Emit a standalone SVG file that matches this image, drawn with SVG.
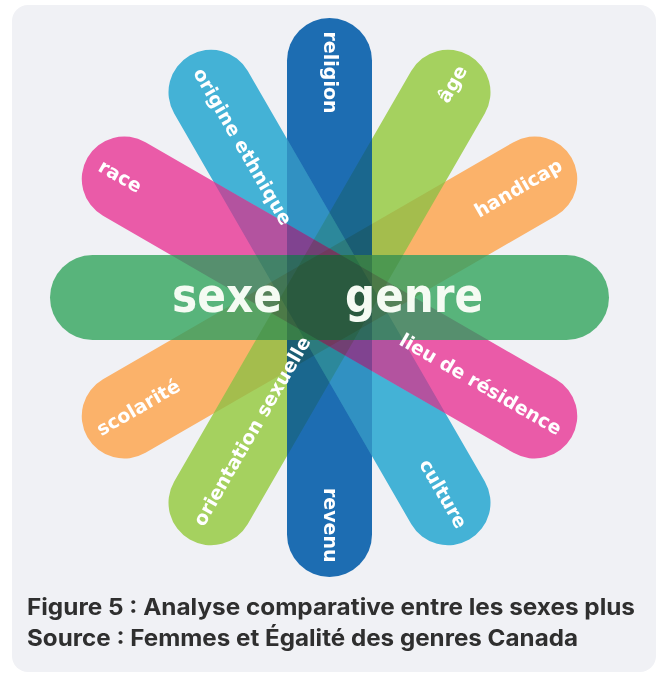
<svg xmlns="http://www.w3.org/2000/svg" xmlns:xlink="http://www.w3.org/1999/xlink" width="662" height="677" viewBox="0 0 662 677">
<style>
  .lbl { font-family: "DejaVu Sans", Verdana, sans-serif; font-weight: bold; font-size: 19px; fill: #ffffff; }
  .big { font-family: "DejaVu Sans", Verdana, sans-serif; font-weight: bold; font-size: 48px; fill: #f5fbf3; }
  .cap { font-family: Inter, "Noto Sans", sans-serif; font-weight: 700; font-size: 23px; fill: #2f2f2f; }
  .mul { mix-blend-mode: multiply; opacity: 0.32; }
  .orange { fill: #fbb26a; }
  .lgreen { fill: #a5d15f; }
  .blue { fill: #1d6db2; }
  .cyan { fill: #44b2d6; }
  .pink { fill: #ea5ba8; }
  .green { fill: #58b47b; }
</style>
<defs>
  <rect id="pill" x="-279.5" y="-42.5" width="559" height="85" rx="42.5"/>
  <clipPath id="above-orange">
    <use xlink:href="#pill" href="#pill" transform="translate(329.5 297.5) rotate(-60)"/>
    <use xlink:href="#pill" href="#pill" transform="translate(329.5 297.5) rotate(90)"/>
    <use xlink:href="#pill" href="#pill" transform="translate(329.5 297.5) rotate(60)"/>
    <use xlink:href="#pill" href="#pill" transform="translate(329.5 297.5) rotate(30)"/>
    <use xlink:href="#pill" href="#pill" transform="translate(329.5 297.5)"/>
  </clipPath>
  <clipPath id="above-lgreen">
    <use xlink:href="#pill" href="#pill" transform="translate(329.5 297.5) rotate(90)"/>
    <use xlink:href="#pill" href="#pill" transform="translate(329.5 297.5) rotate(60)"/>
    <use xlink:href="#pill" href="#pill" transform="translate(329.5 297.5) rotate(30)"/>
    <use xlink:href="#pill" href="#pill" transform="translate(329.5 297.5)"/>
  </clipPath>
  <clipPath id="above-blue">
    <use xlink:href="#pill" href="#pill" transform="translate(329.5 297.5) rotate(60)"/>
    <use xlink:href="#pill" href="#pill" transform="translate(329.5 297.5) rotate(30)"/>
    <use xlink:href="#pill" href="#pill" transform="translate(329.5 297.5)"/>
  </clipPath>
  <clipPath id="above-cyan">
    <use xlink:href="#pill" href="#pill" transform="translate(329.5 297.5) rotate(30)"/>
    <use xlink:href="#pill" href="#pill" transform="translate(329.5 297.5)"/>
  </clipPath>
  <clipPath id="above-pink">
    <use xlink:href="#pill" href="#pill" transform="translate(329.5 297.5)"/>
  </clipPath>
</defs>

<rect x="0" y="0" width="662" height="677" fill="#ffffff"/>
<rect id="card" x="12" y="5" width="644" height="667" rx="16" fill="#f0f1f5"/>

<!-- bars (solid base layer) -->
<g id="bars">
  <g id="bar-handicap-scolarite"><use xlink:href="#pill" href="#pill" class="orange" transform="translate(329.5 297.5) rotate(-30)"/></g>
  <g id="bar-age-orientation"><use xlink:href="#pill" href="#pill" class="lgreen" transform="translate(329.5 297.5) rotate(-60)"/></g>
  <g id="bar-religion-revenu"><use xlink:href="#pill" href="#pill" class="blue" transform="translate(329.5 297.5) rotate(90)"/></g>
  <g id="bar-origine-culture"><use xlink:href="#pill" href="#pill" class="cyan" transform="translate(329.5 297.5) rotate(60)"/></g>
  <g id="bar-race-lieu"><use xlink:href="#pill" href="#pill" class="pink" transform="translate(329.5 297.5) rotate(30)"/></g>
  <g id="bar-sexe-genre"><use xlink:href="#pill" href="#pill" class="green" transform="translate(329.5 297.5)"/></g>
</g>

<!-- overlap tinting -->
<g id="overlaps">
  <g class="mul" clip-path="url(#above-orange)"><use xlink:href="#pill" href="#pill" class="orange" transform="translate(329.5 297.5) rotate(-30)"/></g>
  <g class="mul" clip-path="url(#above-lgreen)"><use xlink:href="#pill" href="#pill" class="lgreen" transform="translate(329.5 297.5) rotate(-60)"/></g>
  <g class="mul" clip-path="url(#above-blue)"><use xlink:href="#pill" href="#pill" class="blue" transform="translate(329.5 297.5) rotate(90)"/></g>
  <g class="mul" clip-path="url(#above-cyan)"><use xlink:href="#pill" href="#pill" class="cyan" transform="translate(329.5 297.5) rotate(60)"/></g>
  <g class="mul" clip-path="url(#above-pink)"><use xlink:href="#pill" href="#pill" class="pink" transform="translate(329.5 297.5) rotate(30)"/></g>
</g>

<!-- labels -->
<g id="labels">
  <g id="lbl-religion" transform="translate(329.5 297.5) rotate(90)"><text class="lbl" x="-266" y="6">religion</text></g>
  <g id="lbl-revenu" transform="translate(329.5 297.5) rotate(90)"><text class="lbl" x="265" y="6" text-anchor="end">revenu</text></g>
  <g id="lbl-origine" transform="translate(329.5 297.5) rotate(60)"><text class="lbl" x="-263" y="6">origine ethnique</text></g>
  <g id="lbl-culture" transform="translate(329.5 297.5) rotate(60)"><text class="lbl" x="265" y="6" text-anchor="end">culture</text></g>
  <g id="lbl-race" transform="translate(329.5 297.5) rotate(30)"><text class="lbl" x="-265" y="6">race</text></g>
  <g id="lbl-lieu" transform="translate(329.5 297.5) rotate(30)"><text class="lbl" x="266" y="6" text-anchor="end">lieu de résidence</text></g>
  <g id="lbl-age" transform="translate(329.5 297.5) rotate(-60)"><text class="lbl" x="266" y="6" text-anchor="end">âge</text></g>
  <g id="lbl-orientation" transform="translate(329.5 297.5) rotate(-60)"><text class="lbl" x="-262" y="6">orientation sexuelle</text></g>
  <g id="lbl-handicap" transform="translate(329.5 297.5) rotate(-30)"><text class="lbl" x="267" y="6" text-anchor="end">handicap</text></g>
  <g id="lbl-scolarite" transform="translate(329.5 297.5) rotate(-30)"><text class="lbl" x="-267" y="6">scolarité</text></g>
  <g id="lbl-sexe"><text class="big" x="172" y="312" textLength="110" lengthAdjust="spacingAndGlyphs">sexe</text></g>
  <g id="lbl-genre"><text class="big" x="345" y="312" textLength="138" lengthAdjust="spacingAndGlyphs">genre</text></g>
</g>

<!-- caption -->
<g id="caption">
  <text class="cap" x="27" y="615" textLength="608" lengthAdjust="spacingAndGlyphs">Figure 5 : Analyse comparative entre les sexes plus</text>
  <text class="cap" x="27" y="646" textLength="551" lengthAdjust="spacingAndGlyphs">Source : Femmes et Égalité des genres Canada</text>
</g>
</svg>
